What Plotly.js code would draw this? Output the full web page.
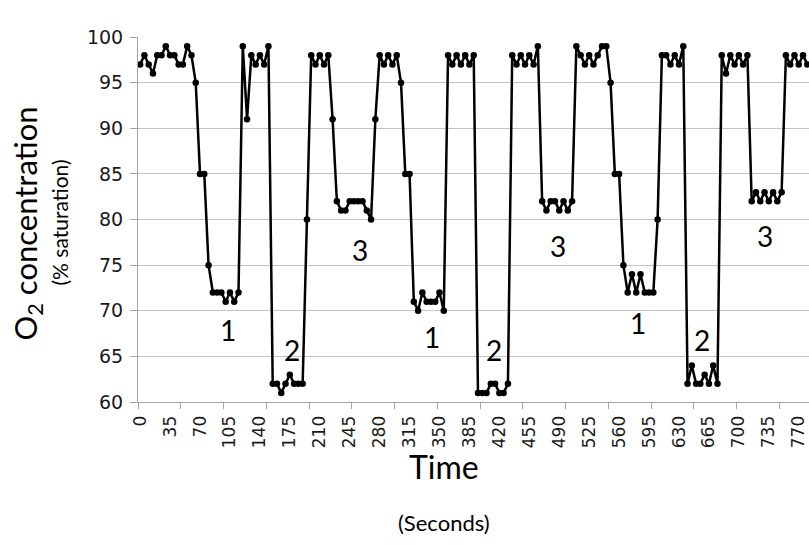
<!DOCTYPE html>
<html>
<head>
<meta charset="utf-8">
<script src="https://cdn.plot.ly/plotly-3.0.1.min.js"></script>
<style>html,body{margin:0;padding:0;background:#fff;}#chart{width:809px;height:545px;}</style>
</head>
<body>
<div id="chart"></div>
<script>
// Time (seconds), one reading every 5 s
const timeSec = [0,5,10,15,20,25,30,35,40,45,50,55,60,65,70,75,80,85,90,95,
100,105,110,115,120,125,130,135,140,145,150,155,160,165,170,175,180,185,190,195,
200,205,210,215,220,225,230,235,240,245,250,255,260,265,270,275,280,285,290,295,
300,305,310,315,320,325,330,335,340,345,350,355,360,365,370,375,380,385,390,395,
400,405,410,415,420,425,430,435,440,445,450,455,460,465,470,475,480,485,490,495,
500,505,510,515,520,525,530,535,540,545,550,555,560,565,570,575,580,585,590,595,
600,605,610,615,620,625,630,635,640,645,650,655,660,665,670,675,680,685,690,695,
700,705,710,715,720,725,730,735,740,745,750,755,760,765,770,775,780];

// O2 concentration (% saturation)
const o2 = [97,98,97,96,98,98,99,98,98,97,97,99,98,95,85,85,75,72,72,72,
71,72,71,72,99,91,98,97,98,97,99,62,62,61,62,63,62,62,62,80,
98,97,98,97,98,91,82,81,81,82,82,82,82,81,80,91,98,97,98,97,
98,95,85,85,71,70,72,71,71,71,72,70,98,97,98,97,98,97,98,61,
61,61,62,62,61,61,62,98,97,98,97,98,97,99,82,81,82,82,81,82,
81,82,99,98,97,98,97,98,99,99,95,85,85,75,72,74,72,74,72,72,
72,80,98,98,97,98,97,99,62,64,62,62,63,62,64,62,98,96,98,97,
98,97,98,82,83,82,83,82,83,82,83,98,97,98,97,98,97];

// Tick labels on the time axis
const xTickVals = [0,35,70,105,140,175,210,245,280,315,350,385,420,455,490,525,560,595,630,665,700,735,770];
const xTickText = xTickVals.map(String);
const yTickVals = [60,65,70,75,80,85,90,95,100];

// Phase labels drawn on the chart
const phaseText = ["C","C","C","C","C","C","C","C","C","C","1","2","3","1","2","3","1","2","3"];
const phaseTime = [58,144,219,297,380,464,538,625,698,769,103,178,257,341,414,489,582,657,730];
const phaseO2   = [101.6,101.6,101.6,101.6,101.6,101.6,101.6,101.6,101.6,101.6,67.9,65.7,76.7,67.1,65.7,77.1,68.7,66.8,78.2];

const FONT = "Lato, 'Open Sans', sans-serif";
const TICKFONT = "'DejaVu Sans', sans-serif";

const trace = {
  x: timeSec, y: o2, type: 'scatter', mode: 'lines+markers',
  line: {color: '#000', width: 2.5},
  marker: {color: '#000', size: 6.5},
  cliponaxis: false, hoverinfo: 'skip'
};
// invisible trace to carry the second (tick-mark) x axis
const tickTrace = {x: [0], y: [null], xaxis: 'x2', type: 'scatter', mode: 'markers', showlegend: false, hoverinfo: 'skip'};

const annotations = phaseText.map((t, i) => ({
  x: phaseTime[i], y: phaseO2[i], xref: 'x', yref: 'y', text: t, showarrow: false,
  font: {family: FONT, size: 28, color: '#000'}
}));
annotations.push(
  {xref: 'paper', yref: 'paper', x: 0, y: 0.5, xanchor: 'center', yanchor: 'middle',
   xshift: -111, yshift: -4, text: 'O<sub>2</sub> concentration', textangle: -90, showarrow: false,
   font: {family: FONT, size: 31, color: '#000'}},
  {xref: 'paper', yref: 'paper', x: 0, y: 0.5, xanchor: 'center', yanchor: 'middle',
   xshift: -79, yshift: -3, text: '(% saturation)', textangle: -90, showarrow: false,
   font: {family: FONT, size: 21, color: '#000'}},
  {xref: 'paper', yref: 'paper', x: 0.5, y: 0, xanchor: 'center', yanchor: 'middle',
   xshift: -30, yshift: -64, text: 'Time', showarrow: false,
   font: {family: FONT, size: 32, color: '#000'}},
  {xref: 'paper', yref: 'paper', x: 0.5, y: 0, xanchor: 'center', yanchor: 'middle',
   xshift: -30, yshift: -120, text: '(Seconds)', showarrow: false,
   font: {family: FONT, size: 22, color: '#000'}}
);

const xRange = [-2.5, 782];
const layout = {
  width: 809, height: 545,
  margin: {l: 138, r: 0, t: 37, b: 143},
  paper_bgcolor: '#fff', plot_bgcolor: '#fff',
  showlegend: false,
  xaxis: {
    range: xRange, tickvals: xTickVals, ticktext: xTickText, tickangle: -90,
    ticks: '', showgrid: false, zeroline: false,
    showline: true, linecolor: '#a6a6a6', linewidth: 1,
    tickfont: {family: TICKFONT, size: 17, color: '#1a1a1a'}, ticklabelstandoff: 6
  },
  xaxis2: {
    range: xRange, overlaying: 'x', side: 'bottom', anchor: 'y',
    tickmode: 'linear', tick0: -2.5, dtick: 50,
    ticks: 'outside', ticklen: 6, tickcolor: '#a6a6a6', tickwidth: 1,
    showticklabels: false, showgrid: false, zeroline: false, showline: false
  },
  yaxis: {
    range: [60, 100], tickvals: yTickVals,
    ticks: 'outside', ticklen: 7, tickcolor: '#a6a6a6',
    showgrid: true, gridcolor: '#c4c4c4', gridwidth: 1, zeroline: false,
    showline: true, linecolor: '#a6a6a6', linewidth: 1,
    tickfont: {family: TICKFONT, size: 19, color: '#1a1a1a'}, ticklabelstandoff: 3
  },
  annotations: annotations
};

Plotly.newPlot('chart', [trace, tickTrace], layout, {displayModeBar: false, staticPlot: true});
</script>
</body>
</html>
